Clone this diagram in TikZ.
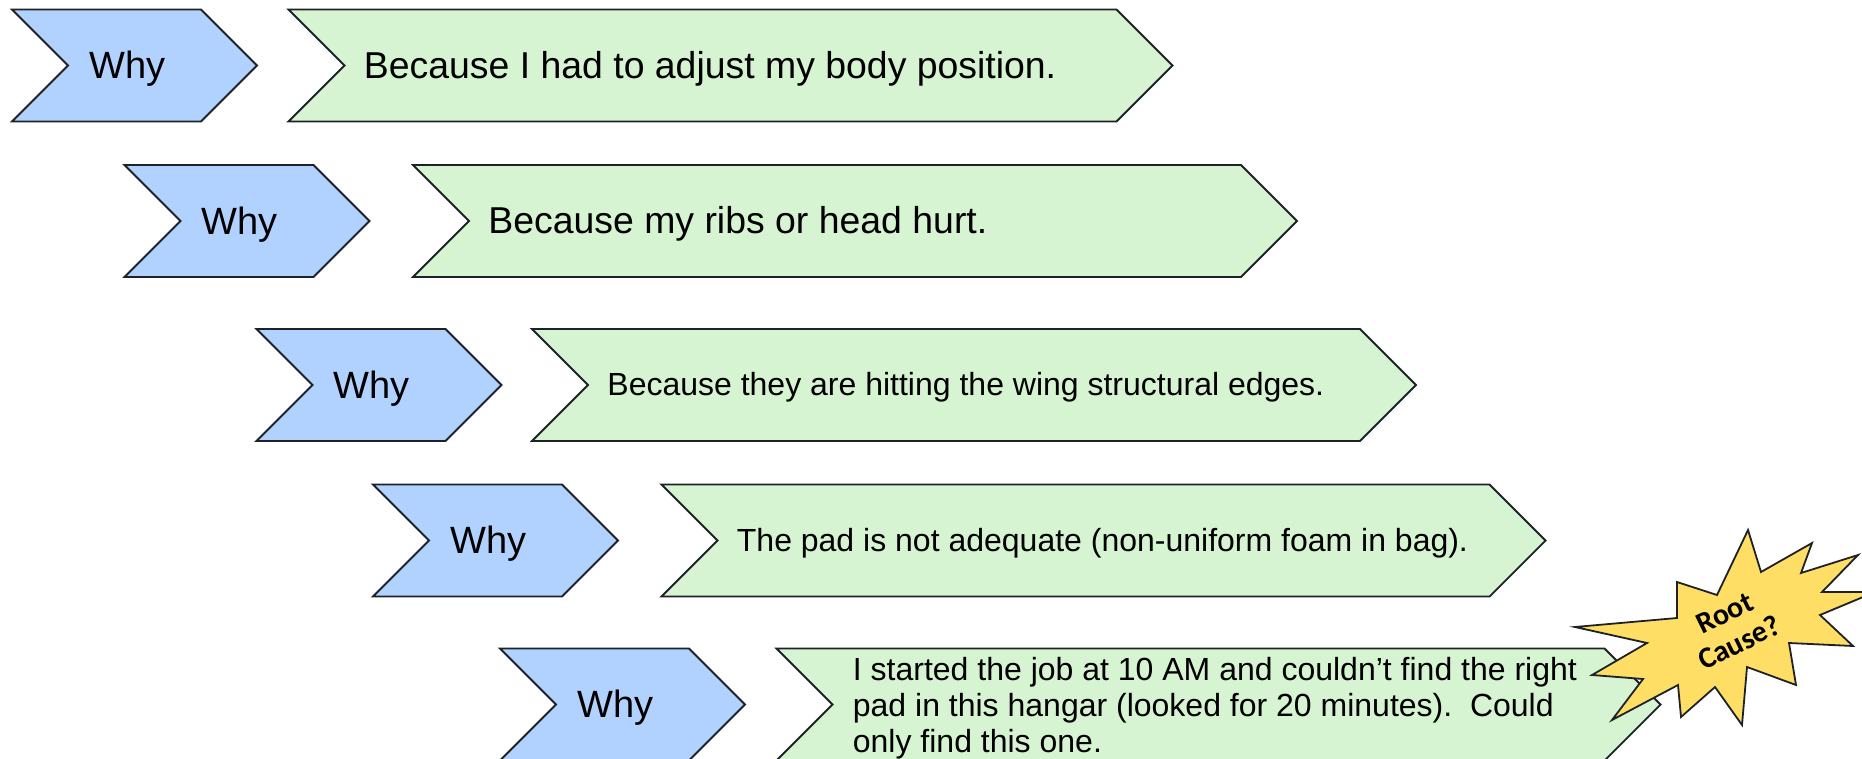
\documentclass[tikz,border=0pt]{standalone}
\usepackage{fontspec}
\setmainfont{Liberation Sans}
\newfontfamily\rootfont{Carlito}
\usepackage{xcolor}
\usepackage{tikz}

\definecolor{whyblue}{RGB}{177,210,255}
\definecolor{ansgreen}{RGB}{214,244,209}
\definecolor{rootyellow}{RGB}{255,222,102}
\definecolor{edgegray}{RGB}{30,34,38}

\tikzset{
  whyshape/.style={draw=edgegray, line width=0.9pt, fill=whyblue},
  ansshape/.style={draw=edgegray, line width=0.9pt, fill=ansgreen},
  starshape/.style={draw=edgegray, line width=0.9pt, fill=rootyellow},
  whytext/.style={anchor=west, inner sep=0pt, yshift=-1.6pt, font=\fontsize{19}{22}\selectfont},
  bigtext/.style={anchor=west, inner sep=0pt, yshift=-1.6pt, font=\fontsize{18.7}{22}\selectfont},
  smalltext/.style={anchor=west, inner sep=0pt, yshift=-1.3pt, font=\fontsize{16}{18}\selectfont, align=left}
}

\begin{document}
\begin{tikzpicture}[x=0.5pt, y=-0.5pt]
        \useasboundingbox (0,0) rectangle (1862,759);

        % row 1
        \draw[whyshape] (12,9.5) -- ++(189,0) -- ++(56,56) -- ++(-56,56) -- ++(-189,0) -- ++(56,-56) -- cycle;
        \node[whytext] (why1) at (89,65.5) {Why};
        \draw[ansshape] (288.5,9.5) -- ++(828,0) -- ++(56,56) -- ++(-56,56) -- ++(-828,0) -- ++(56,-56) -- cycle;
        \node[bigtext] (ans1) at (363.5,65.5) {Because I had to adjust my body position.};

        % row 2
        \draw[whyshape] (124.5,165) -- ++(189,0) -- ++(56,56) -- ++(-56,56) -- ++(-189,0) -- ++(56,-56) -- cycle;
        \node[whytext] (why2) at (201.5,221) {Why};
        \draw[ansshape] (413,165) -- ++(828,0) -- ++(56,56) -- ++(-56,56) -- ++(-828,0) -- ++(56,-56) -- cycle;
        \node[bigtext] (ans2) at (488,221) {Because my ribs or head hurt.};

        % row 3
        \draw[whyshape] (256.5,329) -- ++(189,0) -- ++(56,56) -- ++(-56,56) -- ++(-189,0) -- ++(56,-56) -- cycle;
        \node[whytext] (why3) at (333.5,385) {Why};
        \draw[ansshape] (532,329) -- ++(828,0) -- ++(56,56) -- ++(-56,56) -- ++(-828,0) -- ++(56,-56) -- cycle;
        \node[smalltext] (ans3) at (607,385) {Because they are hitting the wing structural edges.};

        % row 4
        \draw[whyshape] (373,484.5) -- ++(189,0) -- ++(56,56) -- ++(-56,56) -- ++(-189,0) -- ++(56,-56) -- cycle;
        \node[whytext] (why4) at (450,540.5) {Why};
        \draw[ansshape] (661.5,484.5) -- ++(828,0) -- ++(56,56) -- ++(-56,56) -- ++(-828,0) -- ++(56,-56) -- cycle;
        \node[smalltext] (ans4) at (736.5,540.5) {The pad is not adequate (non-uniform foam in bag).};

        % row 5
        \draw[whyshape] (500,648.5) -- ++(189,0) -- ++(56,56) -- ++(-56,56) -- ++(-189,0) -- ++(56,-56) -- cycle;
        \node[whytext] (why5) at (577,704.5) {Why};
        \draw[ansshape] (776.5,648.5) -- ++(828,0) -- ++(56,56) -- ++(-56,56) -- ++(-828,0) -- ++(56,-56) -- cycle;
        \node[smalltext, anchor=base west, yshift=0pt] (ans5) at (852.5,750) {I started the job at 10 AM and couldn’t find the right\\pad in this hangar (looked for 20 minutes).\ \ Could\\only find this one.};

        % root cause burst
        \draw[starshape] (1748,530) -- (1761,572) -- (1812,543) -- (1801,573) -- (1858,555)
            -- (1822,592) -- (1875,592) -- (1820,615) -- (1853,646) -- (1789,643)
            -- (1796,685) -- (1747,667) -- (1742,725) -- (1715,687) -- (1681,717)
            -- (1678,685) -- (1612,720) -- (1643,679) -- (1592,675) -- (1647,643)
            -- (1575,627) -- (1677,618) -- (1677,582) -- (1717,595) -- cycle;
        \node[rotate=26, align=center, inner sep=0pt, font=\rootfont\bfseries\fontsize{15}{16.5}\selectfont] (root) at (1732,628) {Root\\Cause?};
    \end{tikzpicture}
\end{document}
